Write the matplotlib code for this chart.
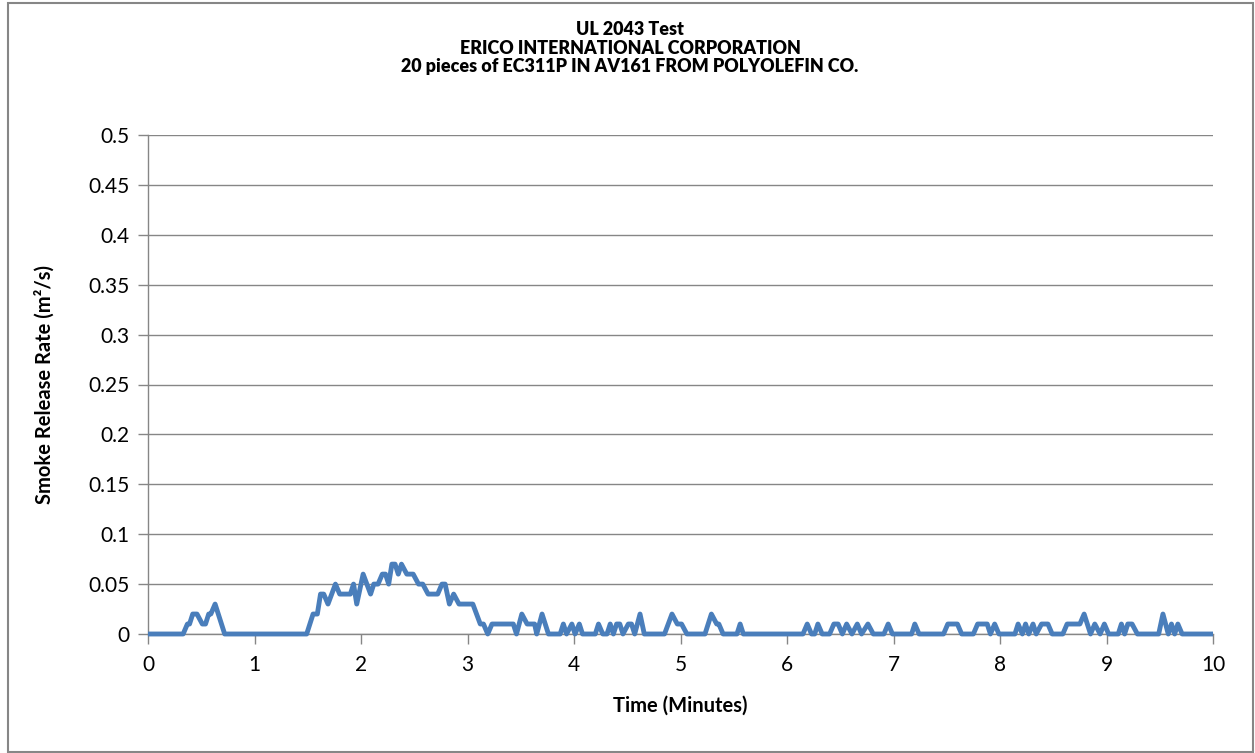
import matplotlib
matplotlib.use("Agg")
import matplotlib.pyplot as plt
from matplotlib.patches import Rectangle

plt.rcParams['font.family'] = ['Lato', 'DejaVu Sans']

title_lines = ["UL 2043 Test", "ERICO INTERNATIONAL CORPORATION",
               "20 pieces of EC311P IN AV161 FROM POLYOLEFIN CO."]
x_label = "Time (Minutes)"
y_label = "Smoke Release Rate (m²/s)"

time_min = [0, 0.33, 0.37, 0.39, 0.42, 0.46, 0.51, 0.54, 0.57, 0.59, 0.63, 0.72,
            1.49, 1.55, 1.59, 1.62, 1.65, 1.69, 1.76, 1.80, 1.90, 1.93, 1.96, 2.02,
            2.09, 2.12, 2.16, 2.20, 2.23, 2.26, 2.29, 2.32, 2.35, 2.38, 2.43, 2.49,
            2.54, 2.58, 2.63, 2.72, 2.76, 2.79, 2.83, 2.87, 2.92, 3.05, 3.12, 3.15,
            3.19, 3.23, 3.43, 3.46, 3.51, 3.56, 3.63, 3.65, 3.70, 3.76, 3.87, 3.90,
            3.93, 3.98, 4.01, 4.05, 4.08, 4.20, 4.23, 4.27, 4.31, 4.34, 4.37, 4.40,
            4.43, 4.46, 4.51, 4.54, 4.57, 4.62, 4.66, 4.85, 4.92, 4.97, 5.01, 5.06,
            5.23, 5.29, 5.34, 5.36, 5.40, 5.53, 5.56, 5.59, 6.15, 6.19, 6.23, 6.26,
            6.29, 6.33, 6.40, 6.44, 6.48, 6.52, 6.56, 6.61, 6.66, 6.70, 6.76, 6.81,
            6.91, 6.95, 6.99, 7.17, 7.20, 7.24, 7.47, 7.51, 7.60, 7.64, 7.75, 7.79,
            7.88, 7.91, 7.95, 7.99, 8.14, 8.17, 8.21, 8.24, 8.27, 8.31, 8.34, 8.39,
            8.45, 8.49, 8.59, 8.63, 8.75, 8.79, 8.85, 8.89, 8.94, 8.98, 9.02, 9.11,
            9.14, 9.17, 9.20, 9.24, 9.29, 9.49, 9.53, 9.58, 9.61, 9.64, 9.67, 9.71,
            10.0]
smoke_rate = [0, 0, 0.01, 0.01, 0.02, 0.02, 0.01, 0.01, 0.02, 0.02, 0.03, 0,
              0, 0.02, 0.02, 0.04, 0.04, 0.03, 0.05, 0.04, 0.04, 0.05, 0.03, 0.06,
              0.04, 0.05, 0.05, 0.06, 0.06, 0.05, 0.07, 0.07, 0.06, 0.07, 0.06, 0.06,
              0.05, 0.05, 0.04, 0.04, 0.05, 0.05, 0.03, 0.04, 0.03, 0.03, 0.01, 0.01,
              0, 0.01, 0.01, 0, 0.02, 0.01, 0.01, 0, 0.02, 0, 0, 0.01,
              0, 0.01, 0, 0.01, 0, 0, 0.01, 0, 0, 0.01, 0, 0.01,
              0.01, 0, 0.01, 0.01, 0, 0.02, 0, 0, 0.02, 0.01, 0.01, 0,
              0, 0.02, 0.01, 0.01, 0, 0, 0.01, 0, 0, 0.01, 0, 0,
              0.01, 0, 0, 0.01, 0.01, 0, 0.01, 0, 0.01, 0, 0.01, 0,
              0, 0.01, 0, 0, 0.01, 0, 0, 0.01, 0.01, 0, 0, 0.01,
              0.01, 0, 0.01, 0, 0, 0.01, 0, 0.01, 0, 0.01, 0, 0.01,
              0.01, 0, 0, 0.01, 0.01, 0.02, 0, 0.01, 0, 0.01, 0, 0,
              0.01, 0, 0.01, 0.01, 0, 0, 0.02, 0, 0.01, 0, 0.01, 0,
              0]

x_ticks = [0, 1, 2, 3, 4, 5, 6, 7, 8, 9, 10]
y_ticks = [0, 0.05, 0.1, 0.15, 0.2, 0.25, 0.3, 0.35, 0.4, 0.45, 0.5]
y_tick_labels = ["0", "0.05", "0.1", "0.15", "0.2", "0.25", "0.3", "0.35", "0.4", "0.45", "0.5"]

W, H = 1255, 753
fig = plt.figure(figsize=(W / 100, H / 100), dpi=100)
ax = fig.add_axes([148 / W, 1 - 634 / H, (1213 - 148) / W, (634 - 135) / H])

grid_col = "#868686"
ax.plot(time_min, smoke_rate, color="#4A7EBB", lw=3.5, solid_joinstyle="round",
        solid_capstyle="butt", zorder=3, clip_on=False)

ax.set_xlim(0, 10)
ax.set_ylim(0, 0.5)
ax.set_xticks(x_ticks)
ax.set_xticklabels([str(v) for v in x_ticks])
ax.set_yticks(y_ticks)
ax.set_yticklabels(y_tick_labels)
ax.yaxis.grid(True, color=grid_col, lw=1.0)
ax.set_axisbelow(True)
for s in ["top", "right"]:
    ax.spines[s].set_visible(False)
for s in ["left", "bottom"]:
    ax.spines[s].set_color(grid_col)
    ax.spines[s].set_linewidth(1.0)
ax.tick_params(axis="both", direction="out", length=7, width=1.0, color=grid_col,
               labelsize=15, labelcolor="black")
ax.tick_params(axis="x", pad=8)
ax.tick_params(axis="y", pad=6)

ax.set_xlabel(x_label, fontsize=14.5, fontweight="bold")
ax.set_ylabel(y_label, fontsize=14.5, fontweight="bold")
ax.xaxis.set_label_coords((680 - 148) / (1213 - 148), (634 - 706) / (634 - 135))
ax.xaxis.label.set_va("center")
ax.yaxis.set_label_coords((45 - 148) / (1213 - 148), (634 - 385) / (634 - 135))
ax.yaxis.label.set_va("center")

title_y = [29.5, 48, 66.5]
for line, yy in zip(title_lines, title_y):
    fig.text(630 / W, 1 - yy / H, line, ha="center", va="center",
             fontsize=12.9, fontweight="heavy")

fig.patches.append(Rectangle((8 / W, 1 / H), (1253 - 8) / W, (752 - 3) / H,
                             transform=fig.transFigure, fill=False,
                             edgecolor=grid_col, lw=1.5))

fig.savefig("out.png", dpi=100, facecolor="white")
